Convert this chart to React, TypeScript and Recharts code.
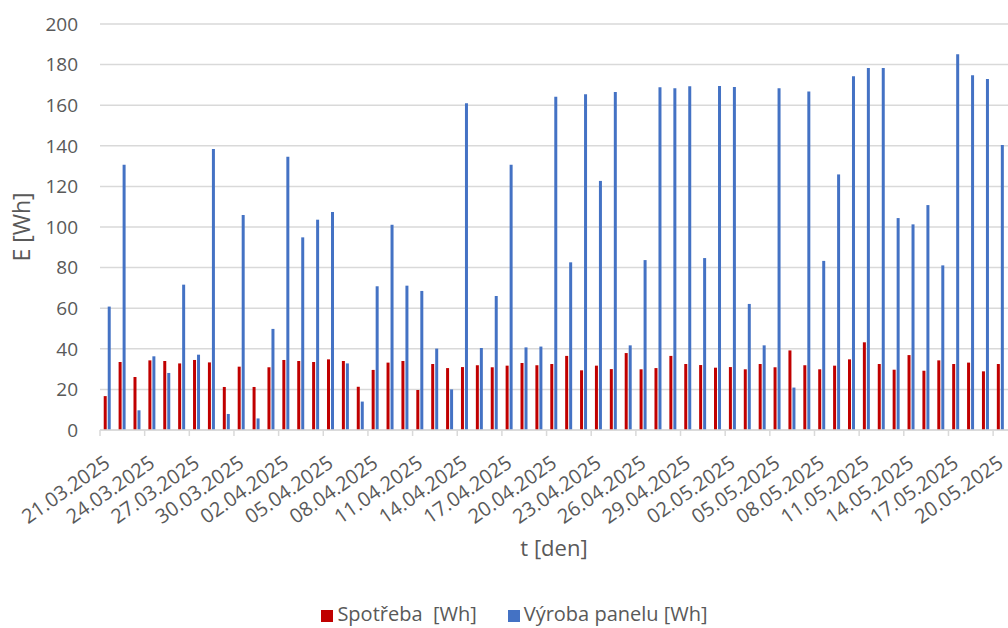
import {
  BarChart,
  Bar,
  XAxis,
  YAxis,
  CartesianGrid,
  Legend,
} from "recharts";

// dny mereni (kategorie osy x)
const dates: string[] = [
  "21.03.2025", "22.03.2025", "23.03.2025", "24.03.2025", "25.03.2025",
  "26.03.2025", "27.03.2025", "28.03.2025", "29.03.2025", "30.03.2025",
  "31.03.2025", "01.04.2025", "02.04.2025", "03.04.2025", "04.04.2025",
  "05.04.2025", "06.04.2025", "07.04.2025", "08.04.2025", "09.04.2025",
  "10.04.2025", "11.04.2025", "12.04.2025", "13.04.2025", "14.04.2025",
  "15.04.2025", "16.04.2025", "17.04.2025", "18.04.2025", "19.04.2025",
  "20.04.2025", "21.04.2025", "22.04.2025", "23.04.2025", "24.04.2025",
  "25.04.2025", "26.04.2025", "27.04.2025", "28.04.2025", "29.04.2025",
  "30.04.2025", "01.05.2025", "02.05.2025", "03.05.2025", "04.05.2025",
  "05.05.2025", "06.05.2025", "07.05.2025", "08.05.2025", "09.05.2025",
  "10.05.2025", "11.05.2025", "12.05.2025", "13.05.2025", "14.05.2025",
  "15.05.2025", "16.05.2025", "17.05.2025", "18.05.2025", "19.05.2025",
  "20.05.2025",
];

// spotreba [Wh]
const spotreba: number[] = [
  16.7, 33.5, 26.1, 34.3, 34.0, 32.8, 34.5, 33.3, 21.2, 31.2,
  21.2, 30.9, 34.5, 34.0, 33.5, 34.8, 34.0, 21.3, 29.6, 33.2,
  34.0, 19.7, 32.5, 30.5, 31.0, 31.9, 30.9, 31.7, 33.0, 31.9,
  32.5, 36.5, 29.4, 31.7, 30.0, 37.9, 29.9, 30.5, 36.5, 32.5,
  32.0, 30.7, 31.0, 29.9, 32.5, 30.9, 39.2, 31.9, 29.9, 31.7,
  34.8, 43.2, 32.5, 29.7, 36.9, 29.2, 34.3, 32.5, 33.2, 28.9,
  32.5,
];

// vyroba panelu [Wh]
const vyroba: number[] = [
  60.8, 130.7, 9.7, 36.3, 28.1, 71.6, 37.1, 138.4, 7.9, 105.9,
  5.7, 49.8, 134.6, 94.9, 103.6, 107.4, 32.8, 14.0, 70.8, 101.1,
  71.1, 68.5, 40.1, 20.0, 160.9, 40.4, 66.0, 130.7, 40.7, 41.1,
  164.2, 82.6, 165.4, 122.7, 166.5, 41.7, 83.7, 168.8, 168.3, 169.3,
  84.7, 169.5, 169.0, 62.1, 41.7, 168.4, 20.9, 166.7, 83.3, 125.9,
  174.2, 178.3, 178.3, 104.4, 101.3, 110.8, 81.1, 185.1, 174.7, 172.9,
  140.4,
];

const yTicks: number[] = [0, 20, 40, 60, 80, 100, 120, 140, 160, 180, 200];

const data = dates.map((d, i) => ({
  den: d,
  spotreba: spotreba[i],
  vyroba: vyroba[i],
}));

const FONT = "'Open Sans', sans-serif";
const TEXT = "#595959";
const GRID = "#D9D9D9";

// popisek data + znacka mezi kategoriemi (Excel styl)
const DateTick = (props: any) => {
  const { x, y, payload } = props;
  const half = payload?.offset ?? 0;
  const tx = x + 4;
  const ty = y + 36;
  return (
    <g>
      <line x1={x - half} y1={y} x2={x - half} y2={y + 6} stroke={GRID} strokeWidth={1.5} />
      <text
        x={tx}
        y={ty}
        textAnchor="end"
        fill={TEXT}
        fontSize={20}
        fontFamily={FONT}
        transform={`rotate(-35, ${tx}, ${ty})`}
      >
        {payload.value}
      </text>
    </g>
  );
};

const legendText = (value: string) => (
  <span style={{ color: TEXT, whiteSpace: "pre", marginRight: 21 }}>{value}</span>
);

const App = () => {
  return (
    <div style={{ position: "absolute", left: 0, top: 0, fontFamily: FONT }}>
      <BarChart
        width={1008}
        height={628}
        data={data}
        margin={{ top: 24, right: 0, bottom: 4, left: 0 }}
        barCategoryGap="25%"
        barGap={1}
      >
        <CartesianGrid vertical={false} stroke={GRID} strokeWidth={1.5} />
        <XAxis
          dataKey="den"
          interval={2}
          height={170}
          tickSize={0}
          tickMargin={0}
          tickLine={false}
          axisLine={{ stroke: GRID, strokeWidth: 1.5 }}
          tick={<DateTick />}
          label={{
            value: "t [den]",
            position: "insideBottom",
            offset: 44,
            fill: TEXT,
            fontSize: 22,
            fontFamily: FONT,
          }}
        />
        <YAxis
          width={100}
          domain={[0, 200]}
          ticks={yTicks}
          axisLine={false}
          tickLine={false}
          tickSize={6}
          tickMargin={16}
          tick={{ fill: TEXT, fontSize: 19, fontFamily: FONT }}
          label={{
            value: "E [Wh]",
            angle: -90,
            position: "insideLeft",
            offset: 22,
            fill: TEXT,
            fontSize: 23,
            fontFamily: FONT,
            style: { textAnchor: "middle" },
          }}
        />
        <Legend
          verticalAlign="bottom"
          height={24}
          iconType="square"
          iconSize={12}
          formatter={legendText}
          wrapperStyle={{ fontSize: 20, fontFamily: FONT, left: 26 }}
        />
        <Bar dataKey="spotreba" name="Spotřeba  [Wh]" fill="#C00000" isAnimationActive={false} />
        <Bar dataKey="vyroba" name="Výroba panelu [Wh]" fill="#4472C4" isAnimationActive={false} />
      </BarChart>
    </div>
  );
};

export default App;
